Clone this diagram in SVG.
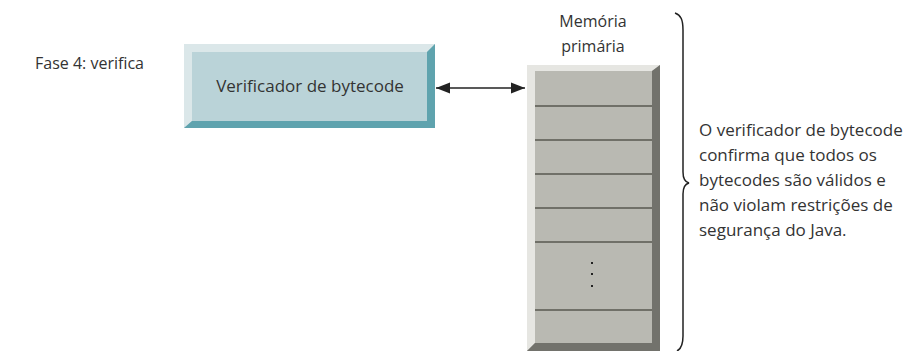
<svg xmlns="http://www.w3.org/2000/svg" width="903" height="351" viewBox="0 0 903 351">
<defs>
<style>
text{font-family:"Open Sans","Noto Sans","DejaVu Sans",sans-serif;fill:#333;font-size:16px}
.big{font-size:17px}
.mid{text-anchor:middle}
.div{stroke:#707068;stroke-width:2}
</style>
<marker id="ah" viewBox="0 0 14 12" refX="14" refY="6" markerWidth="14" markerHeight="12" markerUnits="userSpaceOnUse" orient="auto-start-reverse">
<path d="M0,0.5 L14,6 L0,11.5 Z" fill="#222"/>
</marker>
</defs>
<rect width="903" height="351" fill="#fff"/>
<text x="35" y="69">Fase 4: verifica</text>
<g id="verificador">
<rect x="184" y="44" width="251" height="84" fill="#bad3d8"/>
<polygon points="184,44 435,44 427,52 192,52 192,121 184,128" fill="#dbe7e9"/>
<polygon points="435,44 435,128 184,128 192,121 427,121 427,52" fill="#5fa3ae"/>
<text class="mid big" x="310" y="92">Verificador de bytecode</text>
</g>
<g id="memoria">
<text class="mid" x="593" y="27">Memória</text>
<text class="mid" x="593" y="52">primária</text>
<rect x="527" y="65" width="133" height="286" fill="#b9b9b2"/>
<polygon points="527,65 660,65 652,71 535,71 535,343 527,351" fill="#e6e6e2"/>
<polygon points="660,65 660,351 527,351 535,343 652,343 652,71" fill="#72726c"/>
<line class="div" x1="535" y1="106" x2="652" y2="106"/>
<line class="div" x1="535" y1="140" x2="652" y2="140"/>
<line class="div" x1="535" y1="174" x2="652" y2="174"/>
<line class="div" x1="535" y1="208" x2="652" y2="208"/>
<line class="div" x1="535" y1="242" x2="652" y2="242"/>
<line class="div" x1="535" y1="310" x2="652" y2="310"/>
<rect x="591" y="262" width="2" height="2" fill="#222"/>
<rect x="591" y="273" width="2" height="2" fill="#222"/>
<rect x="591" y="285" width="2" height="2" fill="#222"/>
</g>
<g id="connectors">
<line x1="436" y1="88" x2="525" y2="88" stroke="#222" stroke-width="1.6" marker-start="url(#ah)" marker-end="url(#ah)"/>
<path d="M675,13 C681,15 683,20 683,30 L683,172 C683,179 685,182 689,183 C685,184 683,187 683,194 L683,336 C683,345 681,349 677,351" fill="none" stroke="#222" stroke-width="1.5"/>
</g>
<g id="nota">
<text class="big" x="699" y="136">O verificador de bytecode</text>
<text class="big" x="699" y="161">confirma que todos os</text>
<text class="big" x="699" y="186">bytecodes são válidos e</text>
<text class="big" x="699" y="211">não violam restrições de</text>
<text class="big" x="699" y="236">segurança do Java.</text>
</g>
</svg>
